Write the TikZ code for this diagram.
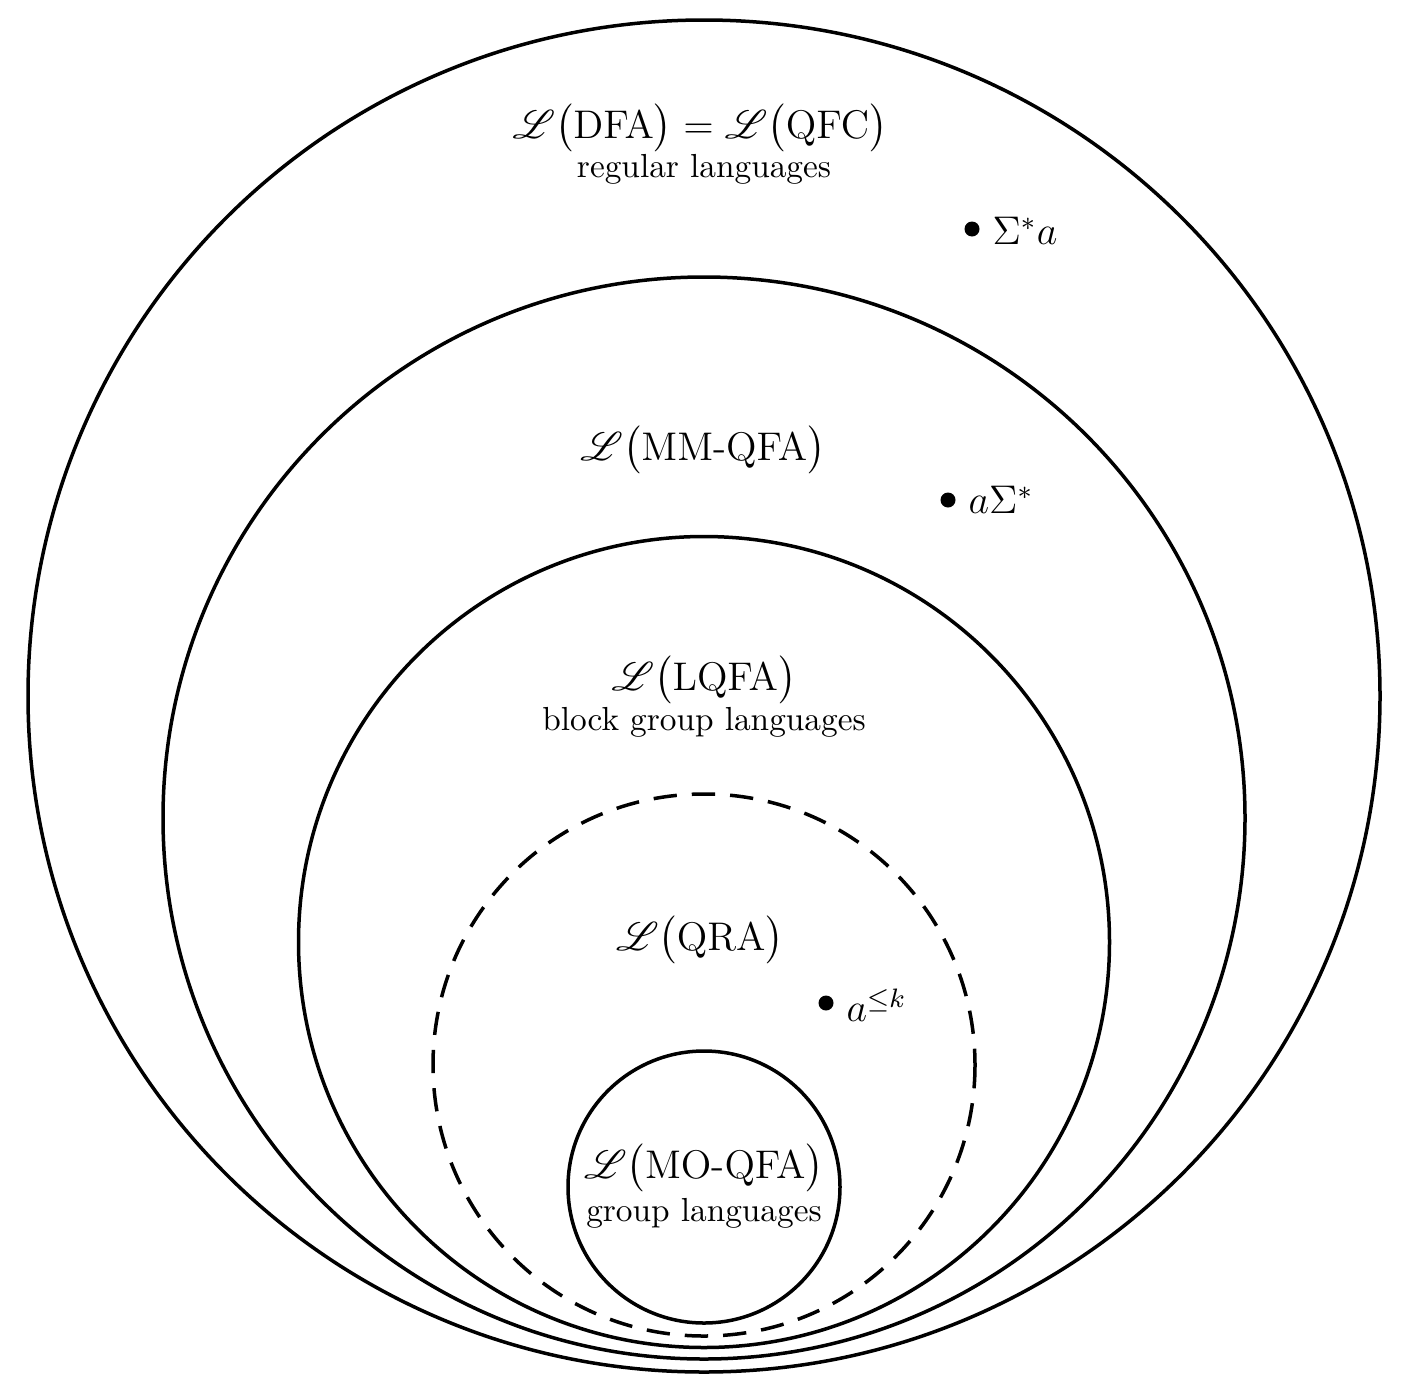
\documentclass[tikz,border=0pt]{standalone}
\usepackage{amsmath,amssymb,mathrsfs}
\begin{document}
\begin{tikzpicture}[x=0.3pt,y=-0.3pt,
  ring/.style={draw,line width=1.05pt},
  big/.style={font=\large,inner sep=0pt},
  small/.style={font=\normalsize,inner sep=0pt},
  pt/.style={circle,fill,inner sep=0pt,minimum size=4.5pt}]
\useasboundingbox (0,0) rectangle (1404,1396);
\draw[ring] (704,696) circle (676);
\draw[ring] (704,818) circle (541);
\draw[ring] (704,942) circle (405.5);
\draw[ring,dash pattern=on 7pt off 4.5pt] (704,1065) circle (271);
\draw[ring] (704,1187) circle (136);
\node[big] (l1) at (700,128) {$\mathscr{L}\bigl(\mathrm{DFA}\bigr)=\mathscr{L}\bigl(\mathrm{QFC}\bigr)$};
\node[small] (r1) at (704,169) {regular languages};
\node[pt] (d1) at (972,229) {};
\node[big,anchor=west] (t1) at (992,231) {$\Sigma^*a$};
\node[big] (l2) at (703,450) {$\mathscr{L}\bigl(\mathrm{MM\text{-}QFA}\bigr)$};
\node[pt] (d2) at (948,500) {};
\node[big,anchor=west] (t2) at (968,500) {$a\Sigma^*$};
\node[big] (l3) at (704,680) {$\mathscr{L}\bigl(\mathrm{LQFA}\bigr)$};
\node[small] (r3) at (704,722) {block group languages};
\node[big] (l4) at (700,940) {$\mathscr{L}\bigl(\mathrm{QRA}\bigr)$};
\node[pt] (d4) at (826,1003) {};
\node[big,anchor=west] (t4) at (846,1005) {$a^{\le k}$};
\node[big] (l5) at (704,1168) {$\mathscr{L}\bigl(\mathrm{MO\text{-}QFA}\bigr)$};
\node[small] (r5) at (704,1213) {group languages};
\end{tikzpicture}
\end{document}
